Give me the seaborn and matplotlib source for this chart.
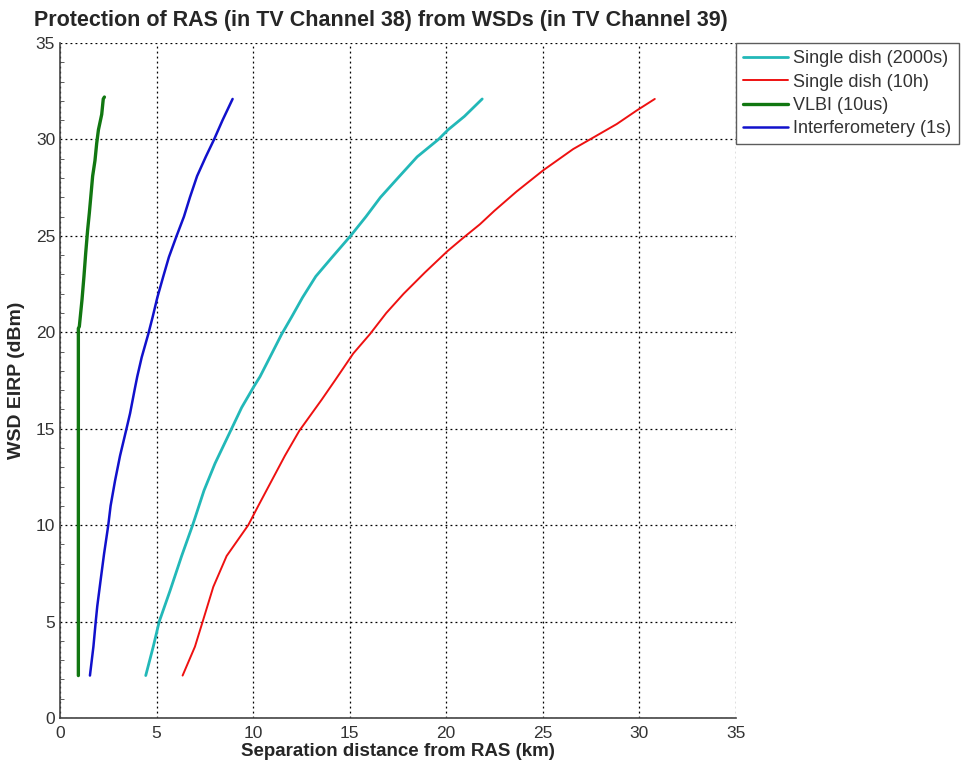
import matplotlib
matplotlib.use("Agg")
import matplotlib.pyplot as plt
import seaborn as sns
import pandas as pd
from matplotlib.ticker import MultipleLocator

sns.set_style("white")
plt.rcParams['font.family'] = ['Liberation Sans', 'DejaVu Sans']

# Data
vlbi_x = [0.95, 0.95, 1.00, 1.14, 1.24, 1.33, 1.43, 1.52, 1.61, 1.69, 1.81, 1.90, 1.99, 2.16, 2.24, 2.30]
vlbi_y = [2.2, 20.2, 20.3, 21.7, 22.9, 24.1, 25.3, 26.2, 27.2, 28.1, 28.9, 29.8, 30.5, 31.3, 32.1, 32.2]

interf_x = [1.55, 1.73, 1.85, 1.93, 2.11, 2.28, 2.50, 2.62, 2.85, 3.11, 3.42, 3.63, 3.88, 4.00, 4.23,
            4.57, 4.80, 5.04, 5.35, 5.64, 6.04, 6.42, 6.73, 7.10, 7.55, 7.98, 8.42, 8.94]
interf_y = [2.2, 3.7, 5.0, 5.8, 7.2, 8.5, 10.0, 11.0, 12.3, 13.6, 14.9, 15.8, 17.1, 17.7, 18.7,
            19.9, 20.8, 21.8, 22.9, 23.9, 25.0, 26.0, 27.0, 28.1, 29.1, 30.0, 31.0, 32.1]

sd2000_x = [4.44, 4.83, 5.14, 5.70, 6.30, 6.87, 7.46, 8.03, 8.84, 9.41, 10.05, 10.36, 10.87, 11.48,
            12.00, 12.56, 13.25, 14.10, 15.05, 15.85, 16.60, 17.50, 18.50, 19.60, 20.10, 20.95, 21.87]
sd2000_y = [2.2, 3.7, 5.0, 6.6, 8.4, 10.0, 11.8, 13.2, 14.9, 16.1, 17.2, 17.7, 18.7, 19.9,
            20.8, 21.8, 22.9, 23.9, 25.0, 26.0, 27.0, 28.0, 29.1, 30.0, 30.5, 31.2, 32.1]

sd10h_x = [6.35, 6.99, 7.39, 7.94, 8.63, 9.75, 10.27, 10.96, 11.65, 12.40, 13.55, 14.24, 15.19, 16.05,
           16.90, 17.80, 18.90, 20.06, 20.89, 21.75, 22.50, 23.65, 25.03, 26.58, 27.45, 28.84, 29.87, 30.81]
sd10h_y = [2.2, 3.7, 5.0, 6.8, 8.4, 10.0, 11.0, 12.3, 13.6, 14.9, 16.5, 17.5, 18.9, 19.9,
           21.0, 22.0, 23.1, 24.2, 24.9, 25.6, 26.3, 27.3, 28.4, 29.5, 30.0, 30.8, 31.5, 32.1]

labels = ["Single dish (2000s)", "Single dish (10h)", "VLBI (10us)", "Interferometery (1s)"]
colors = ["#22b8b8", "#ee1111", "#117711", "#1111cc"]
widths = [2.0, 1.4, 2.4, 1.8]

series = [(sd2000_x, sd2000_y), (sd10h_x, sd10h_y), (vlbi_x, vlbi_y), (interf_x, interf_y)]

fig = plt.figure(figsize=(9.68, 7.63), dpi=100)
ax = fig.add_axes([0.062, 0.059, 0.698, 0.8846])

for (xs, ys), lab, c, w in zip(series, labels, colors, widths):
    df = pd.DataFrame({"x": xs, "y": ys})
    sns.lineplot(data=df, x="x", y="y", sort=False, estimator=None, ax=ax,
                 color=c, linewidth=w, label=lab)

ax.set_xlim(0, 35)
ax.set_ylim(0, 35)
ax.xaxis.set_major_locator(MultipleLocator(5))
ax.yaxis.set_major_locator(MultipleLocator(5))
ax.yaxis.set_minor_locator(MultipleLocator(1))
ax.grid(True, which="major", color="black", linestyle=(0, (1.5, 2.5)), linewidth=0.9)
ax.set_axisbelow(True)

ax.spines['top'].set_visible(False)
ax.spines['right'].set_visible(False)
ax.spines['left'].set_color('#444444')
ax.spines['bottom'].set_color('#444444')
ax.spines['left'].set_linewidth(1.2)
ax.spines['bottom'].set_linewidth(1.2)

ax.tick_params(axis='both', which='major', direction='in', length=6, color='black',
               labelsize=12.5, labelcolor='#333333')
ax.tick_params(axis='x', which='major', pad=6)
ax.tick_params(axis='y', which='minor', direction='in', length=3, color='#444444', left=True)

ax.set_title("Protection of RAS (in TV Channel 38) from WSDs (in TV Channel 39)",
             fontsize=15.5, fontweight='bold', pad=12, loc='left', x=-0.038)
ax.set_xlabel("Separation distance from RAS (km)", fontsize=13.5, fontweight='bold', labelpad=1)
ax.set_ylabel("WSD EIRP (dBm)", fontsize=14, fontweight='bold', labelpad=8)

leg = ax.legend(loc='upper left', bbox_to_anchor=(1.0, 1.0), frameon=True, fancybox=False,
                edgecolor='#333333', fontsize=13, handlelength=2.5, borderpad=0.4,
                labelspacing=0.35, handletextpad=0.3, borderaxespad=0.0)
leg.get_frame().set_linewidth(1.0)
for t in leg.get_texts():
    t.set_color('#333333')

fig.savefig("out.png", dpi=100)
